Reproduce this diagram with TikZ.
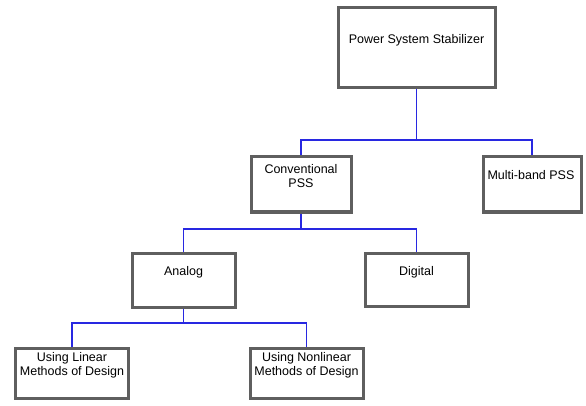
\documentclass[tikz,border=0pt]{standalone}
\usepackage{fontspec}
\setmainfont{Liberation Sans}
\definecolor{boxgray}{RGB}{95,95,95}
\definecolor{connblue}{RGB}{40,40,225}
\begin{document}
\begin{tikzpicture}[x=1pt,y=-1pt,
  box/.style={draw=boxgray, line width=3pt, fill=white, rectangle, inner sep=0pt},
  lbl/.style={font=\fontsize{12.5}{14}\selectfont, align=center, inner sep=0pt},
  conn/.style={draw=connblue, line width=1.3pt}]
\useasboundingbox (0,0) rectangle (586,406);
% boxes
\node[box, minimum width=157pt, minimum height=80pt] (pss) at (416.5,48) {};
\node[box, minimum width=100pt, minimum height=55pt] (cpss) at (301,184.5) {};
\node[box, minimum width=98pt, minimum height=55pt] (mpss) at (532,184.5) {};
\node[box, minimum width=103pt, minimum height=54pt] (analog) at (183.5,280) {};
\node[box, minimum width=103pt, minimum height=53pt] (digital) at (416.5,279.5) {};
\node[box, minimum width=113pt, minimum height=50pt] (lin) at (72,373) {};
\node[box, minimum width=113pt, minimum height=50pt] (nonlin) at (306.5,373) {};
% labels
\node[lbl] (tpss) at (416.5,40) {Power System Stabilizer};
\node[lbl] (tcpss) at (301,176.5) {Conventional\\PSS};
\node[lbl] (tmpss) at (531,175) {Multi-band PSS};
\node[lbl] (tanalog) at (183.5,272) {Analog};
\node[lbl] (tdigital) at (416.5,272) {Digital};
\node[lbl] (tlin) at (72,365) {Using Linear\\Methods of Design};
\node[lbl] (tnonlin) at (306.5,365) {Using Nonlinear\\Methods of Design};
% bus coordinates
\coordinate (b1) at (416.5,140);
\coordinate (b2) at (301,229);
\coordinate (b3) at (183.5,323);
% connectors
\draw[conn] (pss.south) -- (b1);
\draw[conn] (cpss.north) |- (b1) -| (mpss.north);
\draw[conn] (cpss.south) -- (b2);
\draw[conn] (analog.north) |- (b2) -| (digital.north);
\draw[conn] (analog.south) -- (b3);
\draw[conn] (lin.north) |- (b3) -| (nonlin.north);
\end{tikzpicture}
\end{document}
